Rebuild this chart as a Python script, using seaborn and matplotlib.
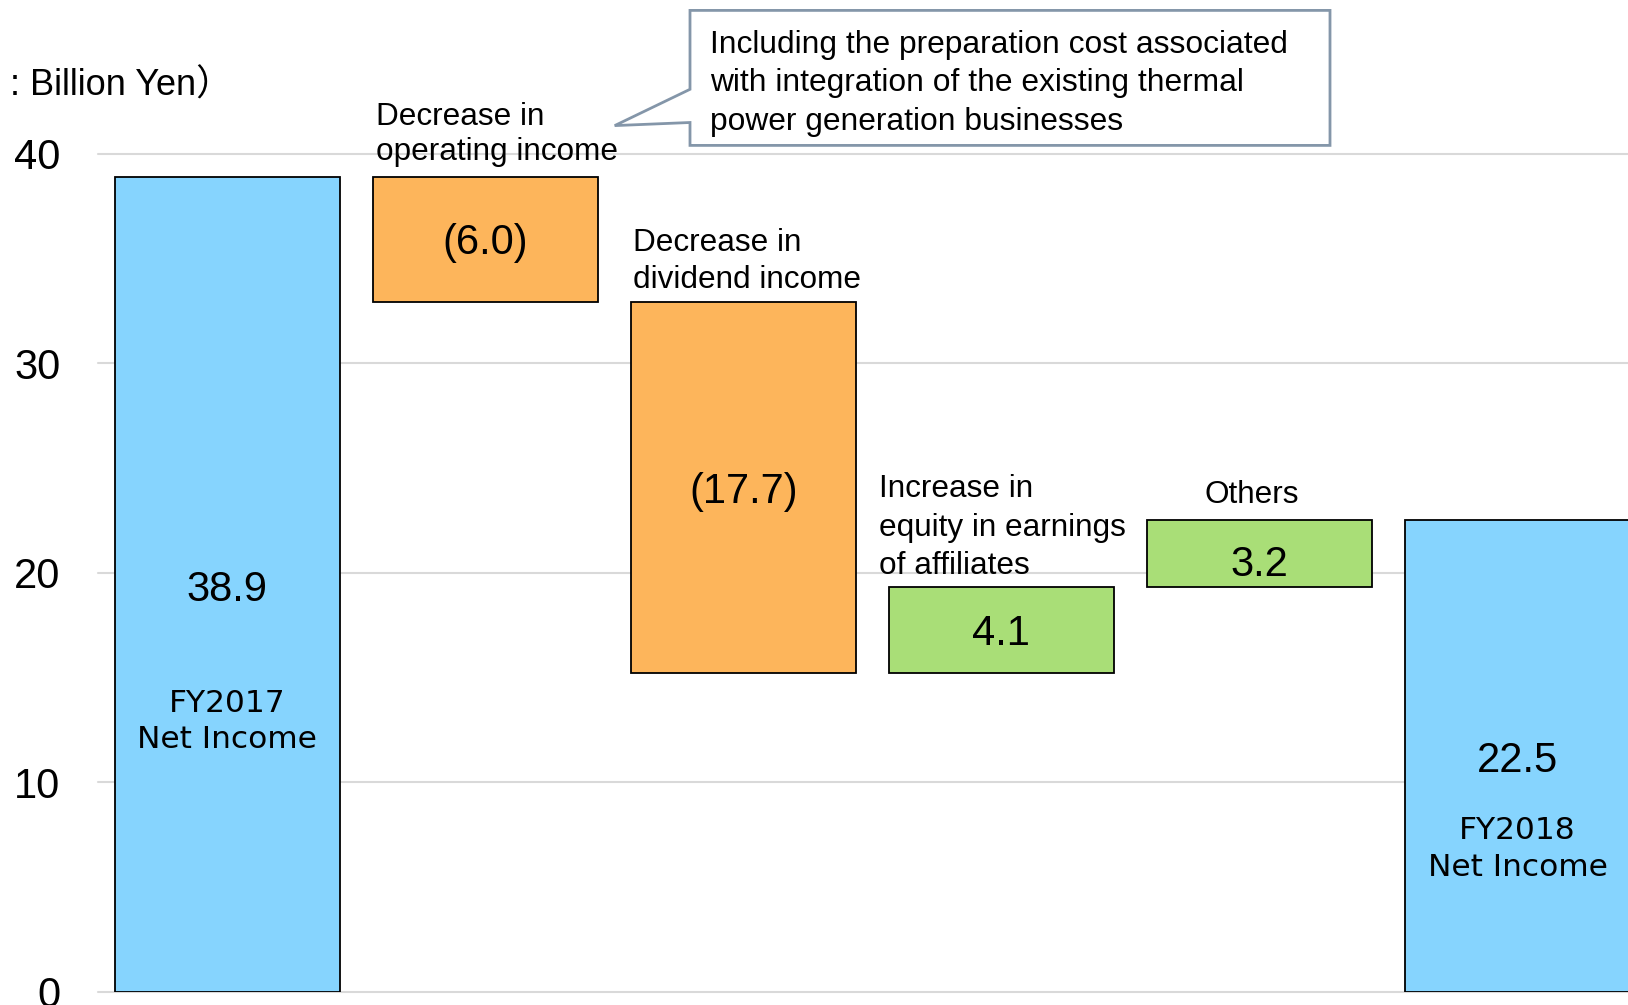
import numpy as np
import pandas as pd
import matplotlib
matplotlib.use("Agg")
import matplotlib.pyplot as plt
import matplotlib.transforms as mtransforms
from matplotlib.patches import Polygon
import seaborn as sns

# ---------------- data ----------------
categories = ["FY2017 Net Income", "Operating income", "Dividend income",
              "Equity in earnings of affiliates", "Others", "FY2018 Net Income"]
changes = [38.9, -6.0, -17.7, 4.1, 3.2, 22.5]
kinds = ["total", "decrease", "decrease", "increase", "increase", "total"]
value_labels = ["38.9", "(6.0)", "(17.7)", "4.1", "3.2", "22.5"]
total_names = {0: ["FY2017", "Net Income"], 5: ["FY2018", "Net Income"]}
step_names = {1: ["Decrease in", "operating income"],
              2: ["Decrease in", "dividend income"],
              3: ["Increase in", "equity in earnings", "of affiliates"],
              4: ["Others"]}
yticks = [0, 10, 20, 30, 40]
unit_text = ": Billion Yen\uff09"
callout_lines = ["Including the preparation cost associated",
                 "with integration of the existing thermal",
                 "power generation businesses"]

colors = {"total": "#86D4FE", "decrease": "#FDB55B", "increase": "#A9DE77"}

# waterfall geometry from the values
bottoms, heights = [], []
running = 0.0
for v, k in zip(changes, kinds):
    if k == "total":
        bottoms.append(0.0); heights.append(v); running = v
    elif v < 0:
        bottoms.append(running + v); heights.append(-v); running += v
    else:
        bottoms.append(running); heights.append(v); running += v
df = pd.DataFrame({"category": categories, "height": heights, "bottom": bottoms, "kind": kinds})

# ---------------- figure ----------------
sns.set_theme(style="white")
plt.rcParams["font.family"] = ["Liberation Sans", "Noto Sans CJK JP", "DejaVu Sans"]

W, H = 1628, 1005
fig = plt.figure(figsize=(W / 100, H / 100), dpi=100)
ax = fig.add_axes([98 / W, 13.5 / H, 1 - 98 / W, 1 - 13.5 / H])

BW = 0.872
sns.barplot(data=df, x="category", y="height", order=categories, bottom=df["bottom"].values,
            width=BW, color=colors["total"], edgecolor="black", linewidth=1.3,
            errorbar=None, ax=ax, zorder=3)
for patch, k in zip(ax.patches, kinds):
    patch.set_facecolor(colors[k])

YMAX = 47.33
ax.set_xlim(-0.5, 5.428)
ax.set_ylim(0, YMAX)
ax.set_yticks(yticks)
ax.set_yticklabels([str(t) for t in yticks], fontsize=30, color="black")
ax.set_xticks([])
ax.set_xlabel("")
ax.set_ylabel("")
ax.tick_params(axis="y", length=0, pad=27, labelcolor="black")
for s in ax.spines.values():
    s.set_visible(False)
ax.yaxis.grid(True, color="#D9D9D9", lw=1.5, zorder=0)
ax.set_axisbelow(True)
for gl in ax.get_ygridlines():
    gl.set_clip_on(False)

PX_PER_UNIT = (H - 13.5) / YMAX


def base_y(yc, fs, cap=0.716):
    """data-y of the baseline so the glyphs' cap height is centred on yc"""
    return yc - cap * fs * (100 / 72) / 2 / PX_PER_UNIT


# value labels inside bars
value_shift = {4: -0.34}
for i, (b, h, lab, k) in enumerate(zip(bottoms, heights, value_labels, kinds)):
    yc = 0.497 * h if k == "total" else b + h / 2
    yc += value_shift.get(i, 0.0)
    ax.text(i, base_y(yc, 30), lab, ha="center", va="baseline", fontsize=30,
            color="black", zorder=5)

# names inside total bars
name_y = {0: [13.9, 12.15], 5: [7.83, 6.04]}
for i, lines in total_names.items():
    for line, y in zip(lines, name_y[i]):
        ax.text(i, base_y(y, 22.5, 0.729), line, ha="center", va="baseline", fontsize=22.5,
                family="DejaVu Sans", color="black", zorder=5)

# step category labels
step_pos = {1: (0.579, "left", [41.89, 40.21]),
            2: (1.572, "left", [35.87, 34.10]),
            3: (2.525, "left", [24.13, 22.30, 20.45]),
            4: (3.97, "center", [23.84])}
for i, lines in step_names.items():
    x, ha, ys = step_pos[i]
    for line, y in zip(lines, ys):
        ax.text(x, base_y(y, 22.7), line, ha=ha, va="baseline", fontsize=22.7,
                color="black", zorder=6, clip_on=False)

# pixel transform (from top-left)
pix = mtransforms.Affine2D().scale(1 / W, -1 / H).translate(0, 1) + fig.transFigure


def base_pix(yc, fs, cap=0.716):
    return yc + cap * fs * (100 / 72) / 2


# unit label
fig.text(10.4, base_pix(83, 26), unit_text, transform=pix, ha="left", va="baseline",
         fontsize=26, color="black")

# callout box
pts = [(690, 10.4), (1330, 10.4), (1330, 145.4), (690, 145.4),
       (690, 122.5), (614.7, 125.6), (690, 89.3)]
poly = Polygon(pts, closed=True, transform=pix, facecolor="white",
               edgecolor="#8496A9", lw=2, zorder=10)
fig.add_artist(poly)
for line, y in zip(callout_lines, [41.5, 80, 118.4]):
    fig.text(710, base_pix(y, 22.9), line, transform=pix, ha="left", va="baseline",
             fontsize=22.9, color="black", zorder=11)

fig.savefig("out.png", dpi=100)
